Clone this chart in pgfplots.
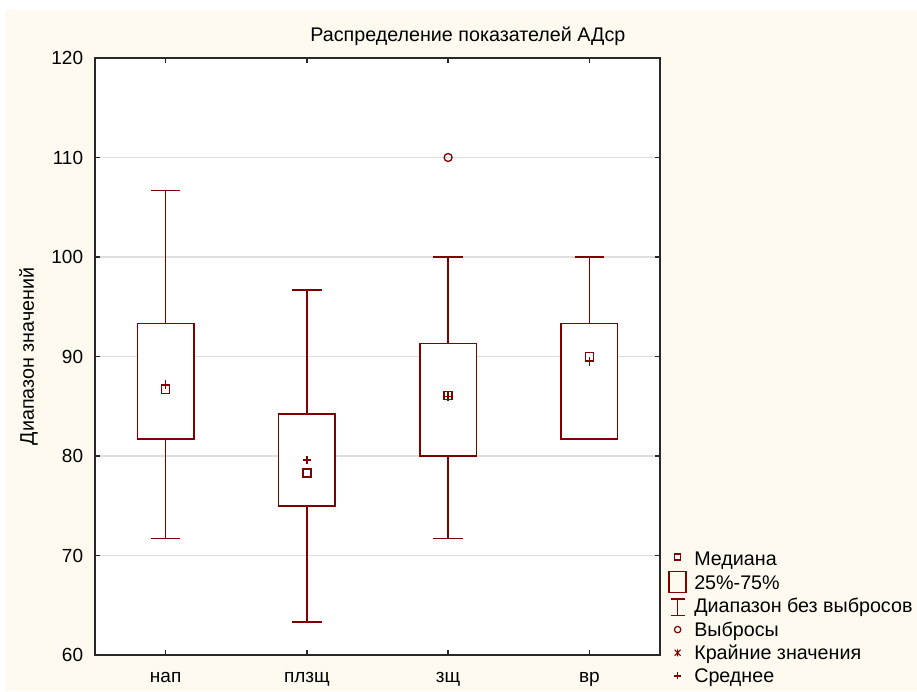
\documentclass[border=0pt]{standalone}
\usepackage{pgfplots}
\pgfplotsset{compat=1.18}
\usepackage{fontspec}
\setmainfont{Liberation Sans}

\definecolor{bordo}{RGB}{128,0,0}
\definecolor{cream}{RGB}{254,250,239}
\definecolor{gridgray}{RGB}{222,222,222}
\definecolor{axisgray}{RGB}{40,40,40}

\newcommand{\tickfont}{\fontsize{19}{22}\selectfont}
\newcommand{\lblfont}{\fontsize{19.7}{23}\selectfont}

% one box with whiskers: position, lower whisker, Q1, Q3, upper whisker
\newcommand{\whiskers}[5]{%
  \addplot[bordo, line width=1.5pt, unbounded coords=jump, forget plot]
    coordinates {(#1,#2) (#1,#5) (nan,nan)
      ({#1-0.105},#5) ({#1+0.105},#5) (nan,nan)
      ({#1-0.105},#2) ({#1+0.105},#2)};
  \addplot[bordo, line width=1.5pt, fill=white, forget plot]
    coordinates {({#1-0.2},#3) ({#1+0.2},#3) ({#1+0.2},#4) ({#1-0.2},#4)} -- cycle;
}

\begin{document}
\begin{tikzpicture}
% page background
\fill[white] (0pt,0pt) rectangle (917pt,691pt);
\fill[cream] (5pt,0pt) rectangle (917pt,681pt);
\useasboundingbox (0pt,0pt) rectangle (917pt,691pt);
\begin{axis}[
  at={(95pt,36pt)}, anchor=south west,
  scale only axis, width=565pt, height=597pt,
  xmin=-0.5, xmax=3.5, ymin=60, ymax=120,
  xtick={0,1,2,3}, xticklabels={нап,плзщ,зщ,вр},
  ytick={60,70,...,120},
  minor tick num=0,
  tick align=inside, major tick length=5pt,
  ymajorgrids, grid style={gridgray, line width=1.3pt},
  axis line style={axisgray, line width=1.6pt},
  tick style={axisgray, line width=1.4pt},
  axis background/.style={fill=white},
  /pgf/number format/assume math mode=true,
  tick label style={font=\tickfont, inner sep=0pt, text height=13.4pt, text depth=0pt},
  yticklabel style={anchor=east, xshift=-11.7pt},
  xticklabel style={anchor=base, yshift=-27.3pt, text height=10pt},
  title={Распределение показателей АДср},
  title style={at={(axis description cs:0.66,1.0294)}, anchor=center,
    font=\lblfont, inner sep=0pt, text height=14pt, text depth=0pt},
  ylabel={Диапазон значений},
  ylabel style={at={(axis description cs:-0.1204,0.5)}, anchor=center, rotate=0,
    font=\lblfont, inner sep=0pt, text height=14pt, text depth=0pt},
  legend cell align=left,
  legend style={at={(axis description cs:1.015,-0.0546)}, anchor=south west,
    draw=none, fill=none, inner sep=0pt, outer sep=0pt,
    font=\lblfont, row sep=0pt, column sep=7.5pt,
    nodes={inner sep=0pt, text height=13pt, text depth=0pt}},
]
% boxes (Q1..Q3) and whiskers
\whiskers{0}{71.7}{81.7}{93.3}{106.7}
\whiskers{1}{63.3}{75.0}{84.2}{96.7}
\whiskers{2}{71.7}{80.0}{91.3}{100.0}
\whiskers{3}{81.7}{81.7}{93.3}{100.0}
% medians
\addplot[only marks, mark=square, mark size=4pt, bordo, line width=1.4pt, forget plot]
  coordinates {(0,86.7) (1,78.3) (2,86.1) (3,90.0)};
% means
\addplot[only marks, mark=+, mark size=4.2pt, bordo, line width=1.3pt, forget plot]
  coordinates {(0,87.2) (1,79.6) (2,86.0) (3,89.5)};
% outliers
\addplot[only marks, mark=o, mark size=4pt, bordo, line width=1.3pt, forget plot]
  coordinates {(2,110)};

% legend
\addlegendimage{legend image code/.code={
  \path[draw=none, fill=none] (0pt,-11.6pt) rectangle (17pt,11.6pt);
  \draw[bordo, line width=1.3pt] (5.5pt,-1pt) rectangle (11.5pt,5pt);}}
\addlegendentry{Медиана}
\addlegendimage{legend image code/.code={
  \path[draw=none, fill=none] (0pt,-11.6pt) rectangle (17pt,11.6pt);
  \draw[bordo, line width=1.3pt] (0pt,-9pt) rectangle (17pt,12pt);}}
\addlegendentry{25\%-75\%}
\addlegendimage{legend image code/.code={
  \path[draw=none, fill=none] (0pt,-11.6pt) rectangle (17pt,11.6pt);
  \draw[bordo, line width=1.3pt] (8.5pt,-9.3pt) -- (8.5pt,7.4pt)
    (1.5pt,7.4pt) -- (15.5pt,7.4pt) (1.5pt,-9.3pt) -- (15.5pt,-9.3pt);}}
\addlegendentry{Диапазон без выбросов}
\addlegendimage{legend image code/.code={
  \path[draw=none, fill=none] (0pt,-11.6pt) rectangle (17pt,11.6pt);
  \draw[bordo, line width=1.2pt] (8.5pt,0pt) circle (3.2pt);}}
\addlegendentry{Выбросы}
\addlegendimage{legend image code/.code={
  \path[draw=none, fill=none] (0pt,-11.6pt) rectangle (17pt,11.6pt);
  \draw[bordo, line width=1pt] (8.5pt,-3.5pt) -- (8.5pt,3.5pt)
    (5.5pt,-3pt) -- (11.5pt,3pt) (5.5pt,3pt) -- (11.5pt,-3pt);}}
\addlegendentry{Крайние значения}
\addlegendimage{legend image code/.code={
  \path[draw=none, fill=none] (0pt,-11.6pt) rectangle (17pt,11.6pt);
  \draw[bordo, line width=1.2pt] (8.5pt,-3.5pt) -- (8.5pt,3.5pt)
    (5pt,0pt) -- (12pt,0pt);}}
\addlegendentry{Среднее}
\end{axis}
\end{tikzpicture}
\end{document}
